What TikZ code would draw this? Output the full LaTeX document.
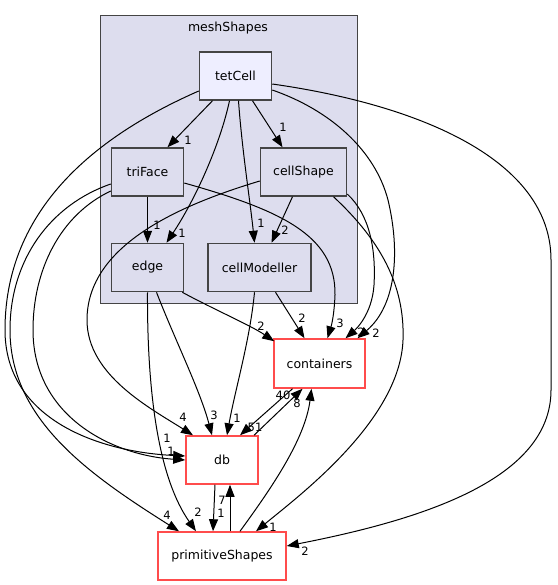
\documentclass[tikz,border=0pt]{standalone}
\usepackage{fontspec}
\setmainfont{DejaVu Sans}
\usetikzlibrary{arrows.meta,calc}
\definecolor{clfill}{HTML}{DDDDEE}
\definecolor{tetfill}{HTML}{EEEEFF}
\definecolor{bord}{HTML}{444444}
\definecolor{redb}{HTML}{FF4C4C}
\begin{document}
\begin{tikzpicture}[x=1pt,y=-1pt,
  nfont/.style={font=\fontsize{12.5}{14}\selectfont},
  box/.style={draw=bord,line width=1.5pt,fill=clfill,minimum height=48pt,inner sep=0pt,nfont},
  ext/.style={draw=redb,line width=1.5pt,fill=white,minimum height=48pt,inner sep=0pt,nfont},
  dep/.style={-{Triangle[length=12pt,width=9pt]},line width=1pt,black},
  lbl/.style={font=\fontsize{11.5}{13}\selectfont,inner sep=0pt}]
\useasboundingbox (0,0) rectangle (557,585);
% cluster
\draw[draw=bord,line width=1pt,fill=clfill] (100,16) rectangle (357,303);
\node[nfont,inner sep=0pt] (clusterlabel) at (228,28) {meshShapes};
% nodes
\node[box,fill=tetfill,minimum width=72pt] (tetCell) at (235.5,76) {tetCell};
\node[box,minimum width=72pt] (triFace) at (147.5,172) {triFace};
\node[box,minimum width=86pt] (cellShape) at (303.5,172) {cellShape};
\node[box,minimum width=72pt] (edge) at (147.5,267.5) {edge};
\node[box,minimum width=103pt] (cellModeller) at (259.5,267.5) {cellModeller};
\node[ext,minimum width=91pt,minimum height=49pt] (containers) at (319.5,363.5) {containers};
\node[ext,minimum width=72pt] (db) at (222,460) {db};
\node[ext,minimum width=128pt] (primitiveShapes) at (222,556) {primitiveShapes};
% edges
\draw[dep] ($(tetCell.south)+(-23,0)$) -- ($(triFace.north)+(20,0)$);
\draw[dep] ($(tetCell.south)+(17,0)$) -- ($(cellShape.north)+(-21,0)$);
\draw[dep] ($(tetCell.south)+(-6,0)$) .. controls (220,145) and (195,200) .. ($(edge.north)+(19,0)$);
\draw[dep] ($(tetCell.south)+(3,0)$) .. controls (242,150) and (250,200) .. ($(cellModeller.north)+(-5,0)$);
\draw[dep] ($(tetCell.east)+(0,14)$) .. controls (330,110) and (375,150) .. (388,200) .. controls (400,250) and (397,305) .. ($(containers.north)+(38,0)$);
\draw[dep] ($(tetCell.east)+(0,8)$) .. controls (420,105) and (551,160) .. (551,260) -- (551,390) .. controls (551,480) and (420,520) .. ($(primitiveShapes.east)+(0,-10)$);
\draw[dep] ($(tetCell.west)+(0,15)$) .. controls (110,130) and (5,200) .. (5,330) .. controls (5,420) and (100,452) .. ($(db.west)+(0,-4)$);
\draw[dep] (triFace.south) -- (edge.north);
\draw[dep] ($(triFace.east)+(0,11)$) .. controls (280,210) and (336,235) .. (335,295) .. controls (334,320) and (330,330) .. ($(containers.north)+(8,0)$);
\draw[dep] ($(triFace.west)+(0,12)$) .. controls (50,205) and (10,260) .. (10,330) .. controls (10,420) and (90,475) .. ($(primitiveShapes.north)+(-43,0)$);
\draw[dep] ($(triFace.west)+(0,19)$) .. controls (60,215) and (33,270) .. (33,330) .. controls (33,415) and (110,455) .. ($(db.west)+(0,0)$);
\draw[dep] ($(cellShape.south)+(-11,0)$) -- ($(cellModeller.north)+(12,0)$);
\draw[dep] ($(cellShape.east)+(0,22)$) .. controls (370,215) and (376,250) .. (374,285) .. controls (372,315) and (355,330) .. ($(containers.north)+(26,0)$);
\draw[dep] ($(cellShape.west)+(0,9)$) .. controls (180,205) and (87,245) .. (87,320) .. controls (87,375) and (150,408) .. ($(db.north)+(-29,0)$);
\draw[dep] ($(cellShape.south)+(30,0)$) .. controls (380,240) and (405,285) .. (403,340) .. controls (400,420) and (300,495) .. ($(primitiveShapes.north)+(34,0)$);
\draw[dep] ($(edge.south east)+(-2,0)$) .. controls (215,310) and (250,325) .. ($(containers.north west)+(1,3)$);
\draw[dep] ($(edge.south)+(9,0)$) .. controls (175,340) and (200,390) .. ($(db.north)+(-10,0)$);
\draw[dep] (edge.south) .. controls (147,400) and (160,480) .. ($(primitiveShapes.north)+(-26,0)$);
\draw[dep] ($(cellModeller.south)+(16,0)$) -- ($(containers.north)+(-15,0)$);
\draw[dep] ($(cellModeller.south)+(-5,0)$) .. controls (250,340) and (235,390) .. ($(db.north)+(5,0)$);
\draw[dep] ($(containers.south)+(-27,0)$) -- ($(db.north)+(18,0)$);
\draw[dep] ($(db.north)+(32,0)$) -- ($(containers.south)+(-17,0)$);
\draw[dep] ($(primitiveShapes.north)+(18,0)$) .. controls (270,490) and (305,440) .. ($(containers.south)+(-8,0)$);
\draw[dep] ($(db.south)+(-7,0)$) -- ($(primitiveShapes.north)+(-9,0)$);
\draw[dep] ($(primitiveShapes.north)+(8,0)$) -- ($(db.south)+(8,0)$);
% labels
\node[lbl] (l1) at (188,140) {1};
\node[lbl] (l2) at (283,127) {1};
\node[lbl] (l3) at (182,233) {1};
\node[lbl] (l4) at (261,223) {1};
\node[lbl] (l5) at (376,333) {2};
\node[lbl] (l6) at (305,551) {2};
\node[lbl] (l7) at (167,438) {1};
\node[lbl] (l8) at (157,225) {1};
\node[lbl] (l9) at (340,323) {3};
\node[lbl] (l10) at (167,515) {4};
\node[lbl] (l11) at (171,451) {1};
\node[lbl] (l12) at (285,230) {2};
\node[lbl] (l13) at (361,332) {2};
\node[lbl] (l14) at (183,417) {4};
\node[lbl] (l15) at (273,527) {1};
\node[lbl] (l16) at (261,326) {2};
\node[lbl] (l17) at (214,415) {3};
\node[lbl] (l18) at (198,512) {2};
\node[lbl] (l19) at (302,318) {2};
\node[lbl] (l20) at (237,418) {1};
\node[lbl] (l21) at (255,427) {51};
\node[lbl] (l22) at (283,395) {40};
\node[lbl] (l23) at (297,403) {8};
\node[lbl] (l24) at (221,513) {1};
\node[lbl] (l25) at (222,500) {7};
\end{tikzpicture}
\end{document}
